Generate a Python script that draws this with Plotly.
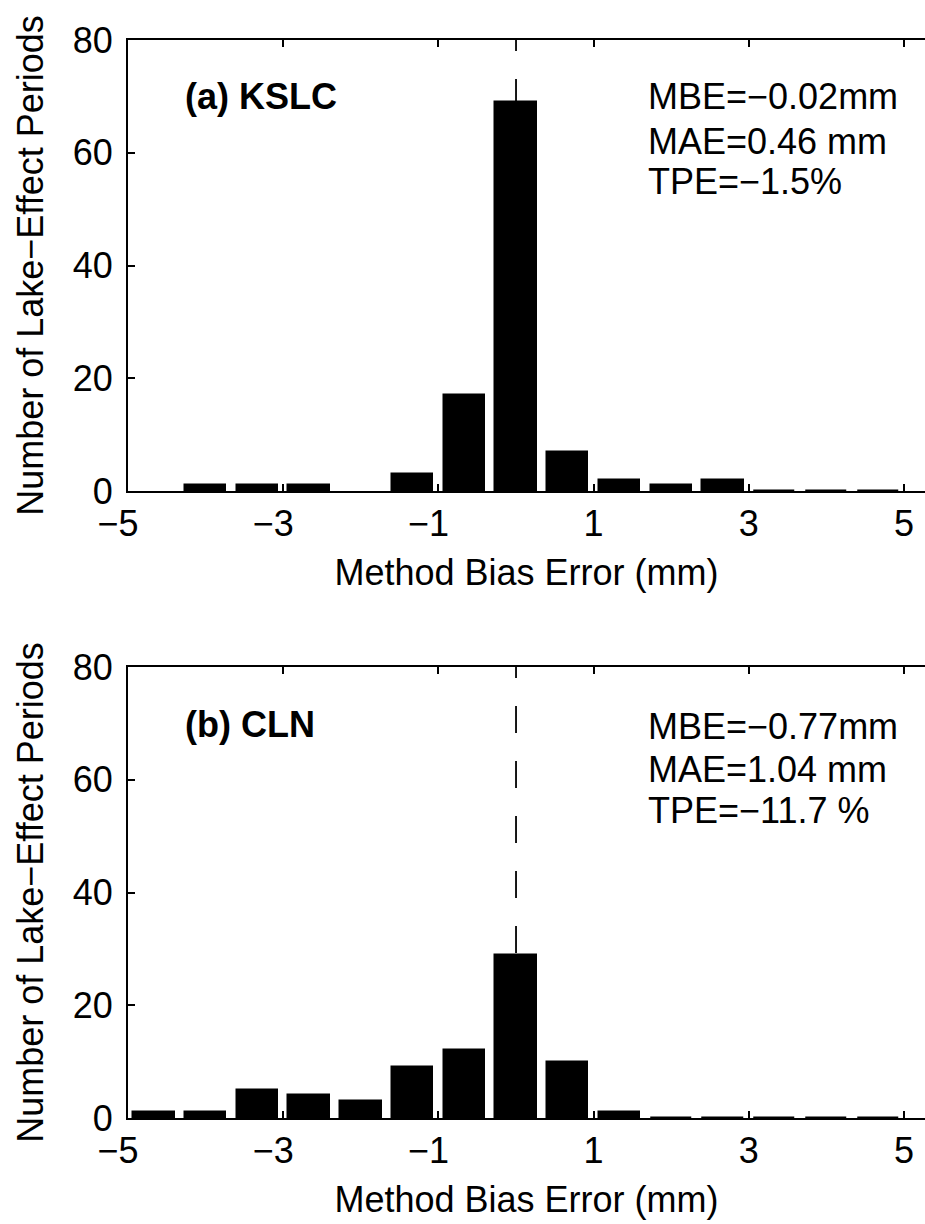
import plotly.graph_objects as go

# ---- data ----
bin_centers = [-14/3, -4, -10/3, -8/3, -2, -4/3, -2/3, 0, 2/3, 4/3, 2, 8/3, 10/3, 4, 14/3]
counts_kslc = [None, 1, 1, 1, None, 3, 17, 69, 7, 2, 1, 2, 0, 0, 0]
counts_cln = [1, 1, 5, 4, 3, 9, 12, 29, 10, 1, 0, 0, 0, 0, 0]
ref_line_x = [0, 0]
ref_line_y = [0, 80]
x_tickvals = [-5, -3, -1, 1, 3, 5]
x_ticktext = ["\u2212" + "5\u00a0\u00a0", "\u2212" + "3\u00a0\u00a0", "\u2212" + "1\u00a0\u00a0", "1", "3", "5"]
y_tickvals = [0, 20, 40, 60, 80]
panel_labels = ["(a) KSLC", "(b) CLN"]
stats_kslc = ["MBE=\u22120.02mm", "MAE=0.46 mm", "TPE=\u22121.5%"]
stats_cln = ["MBE=\u22120.77mm", "MAE=1.04 mm", "TPE=\u221211.7 %"]
x_title = "Method Bias Error (mm)"
y_title = "Number of Lake\u2212Effect Periods"

FONT = "Liberation Sans, Arial, Helvetica, sans-serif"
W, H = 925, 1224
L, R, T, B = 128, 0, 40, 106
PH = H - T - B

def py2paper(py):
    return (H - B - py) / PH

fig = go.Figure()

for i, (counts, xa, ya) in enumerate([(counts_kslc, "x", "y"), (counts_cln, "x2", "y2")]):
    fig.add_trace(go.Scatter(x=ref_line_x, y=ref_line_y, mode="lines",
                             line=dict(color="black", width=1.8, dash="27px,28px"),
                             xaxis=xa, yaxis=ya, showlegend=False, hoverinfo="skip"))
    fig.add_trace(go.Bar(x=bin_centers, y=counts, width=0.533,
                         marker=dict(color="black", line=dict(color="black", width=1.5)),
                         xaxis=xa, yaxis=ya, showlegend=False))

axis_common = dict(showline=True, linewidth=2, linecolor="black", mirror="ticks",
                   ticks="inside", ticklen=7, tickwidth=1.5, tickcolor="black",
                   showgrid=False, zeroline=False,
                   tickfont=dict(family=FONT, size=36, color="black"))

top_dom = [py2paper(491), py2paper(40)]
bot_dom = [py2paper(1118), py2paper(667)]

xrange_ = [-5, 5.27]
fig.update_layout(
    width=W, height=H,
    margin=dict(l=L, r=R, t=T, b=B),
    plot_bgcolor="white", paper_bgcolor="white",
    font=dict(family=FONT, size=36, color="black"),
    bargap=0,
    xaxis=dict(axis_common, domain=[0, 1], anchor="y", range=xrange_,
               tickmode="array", tickvals=x_tickvals, ticktext=x_ticktext,
               title=dict(text=x_title, font=dict(family=FONT, size=36), standoff=17)),
    yaxis=dict(axis_common, domain=top_dom, anchor="x", range=[0, 80], mirror=False,
               tickmode="array", tickvals=y_tickvals, ticklabelstandoff=6,
               title=dict(text=y_title, font=dict(family=FONT, size=36), standoff=18)),
    xaxis2=dict(axis_common, domain=[0, 1], anchor="y2", range=xrange_,
                tickmode="array", tickvals=x_tickvals, ticktext=x_ticktext,
                title=dict(text=x_title, font=dict(family=FONT, size=36), standoff=17)),
    yaxis2=dict(axis_common, domain=bot_dom, anchor="x2", range=[0, 80], mirror=False,
                tickmode="array", tickvals=y_tickvals, ticklabelstandoff=6,
                title=dict(text=y_title, font=dict(family=FONT, size=36), standoff=18)),
)

annotations = []
# panel labels
for lbl, xr, py in [(panel_labels[0], "x", 97), (panel_labels[1], "x2", 724)]:
    annotations.append(dict(text="<b>" + lbl + "</b>", x=-4.29, xref=xr, y=py2paper(py), yref="paper",
                            xanchor="left", yanchor="middle", showarrow=False,
                            font=dict(family=FONT, size=36, color="black")))
# stats
for stats, xr, pys in [(stats_kslc, "x", [97, 141, 181]), (stats_cln, "x2", [726, 770, 810])]:
    for s, py in zip(stats, pys):
        annotations.append(dict(text=s, x=1.67, xref=xr, y=py2paper(py), yref="paper",
                                xanchor="left", yanchor="middle", showarrow=False,
                                font=dict(family=FONT, size=36, color="black")))
fig.update_layout(annotations=annotations)

fig.write_html("out.html", config={"displayModeBar": False},
               post_script="document.body.style.margin='0';document.body.style.overflow='hidden';")
